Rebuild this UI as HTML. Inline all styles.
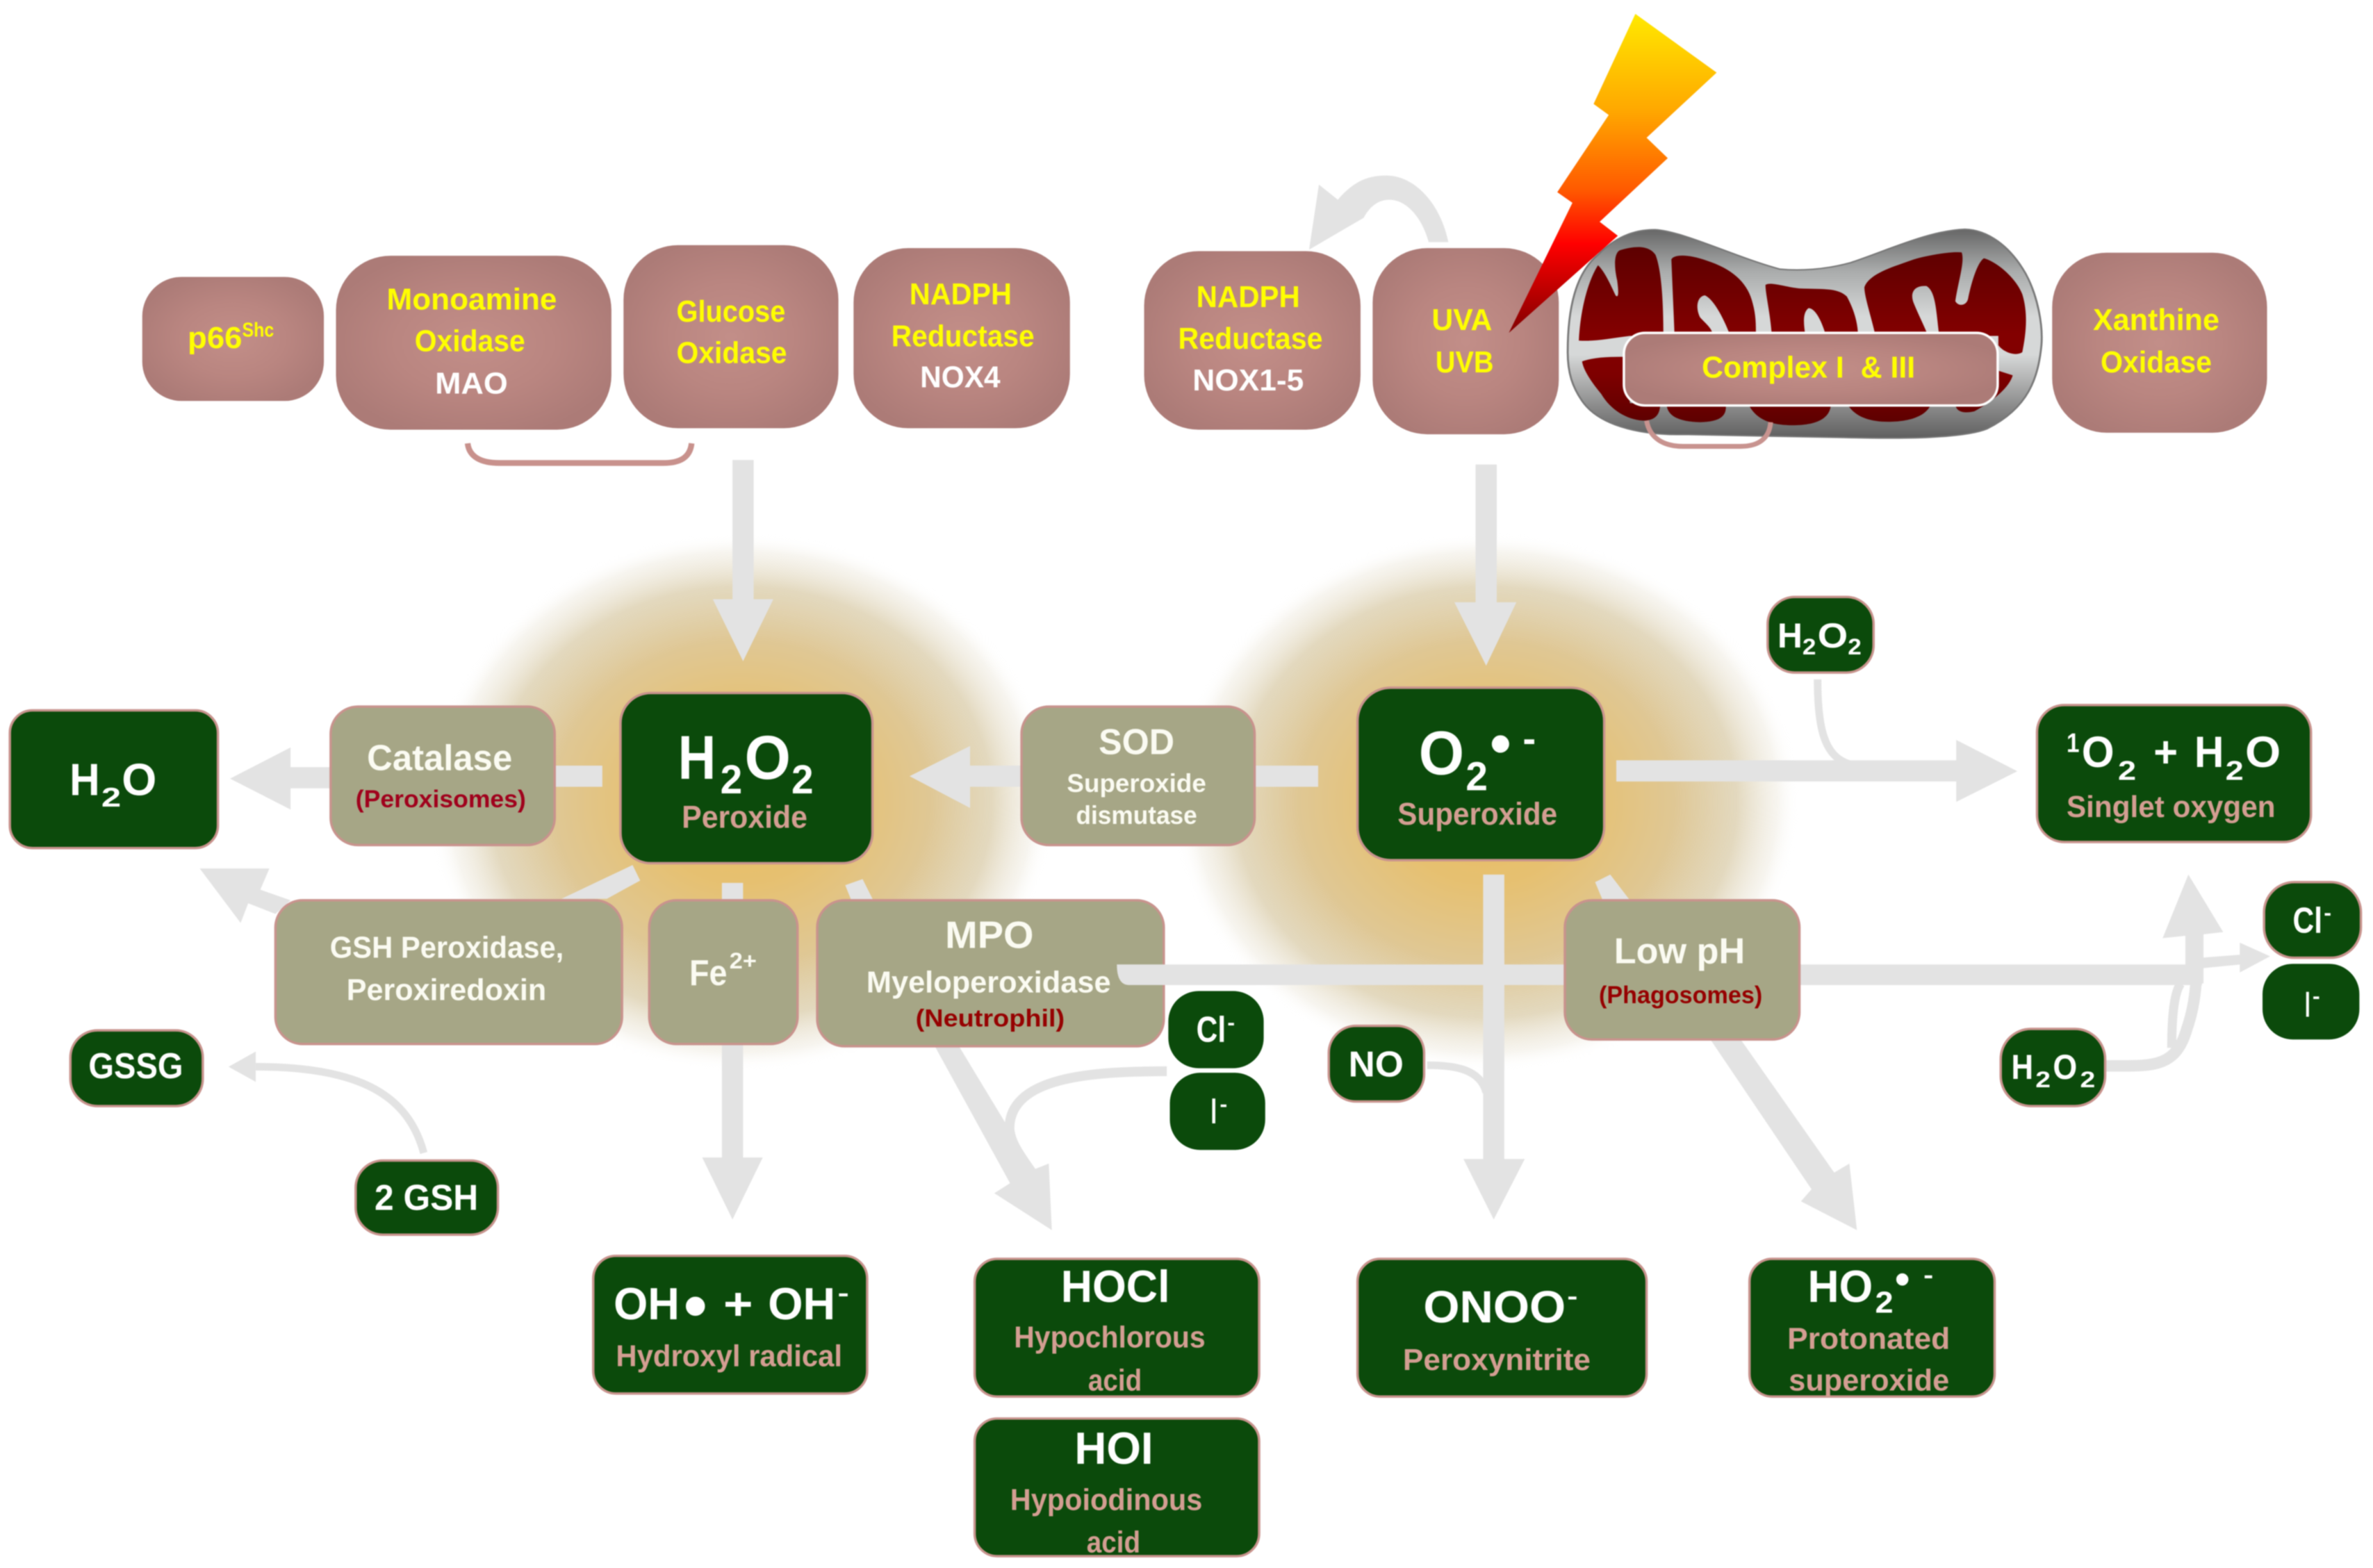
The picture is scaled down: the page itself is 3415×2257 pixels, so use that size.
<!DOCTYPE html>
<html><head><meta charset="utf-8"><style>
html,body{margin:0;padding:0;background:#fff;overflow:hidden}
svg{display:block;filter:blur(.9px)}
text{font-family:"Liberation Sans",sans-serif;font-weight:bold}
.w{fill:#fff}.o{fill:#fbfbf2}.y{fill:#ff0}.p{fill:#d39e92}.r{fill:#a0001c}
.g{fill:#0b4a0b;stroke:#c8938d;stroke-width:1.6}
.t{fill:#a6a686;stroke:#c8938d;stroke-width:1.6}
.m{fill:url(#rose)}
.a{fill:#e3e3e3}
.l{fill:none;stroke:#e3e3e3}
.c{fill:url(#cr)}
</style></head><body>
<svg xmlns="http://www.w3.org/2000/svg" width="3415" height="2257" viewBox="0 0 1568 1036.3" preserveAspectRatio="none">
<defs>
<radialGradient id="rose" cx=".5" cy=".5" r=".55"><stop offset="0" stop-color="#c28e88"/><stop offset=".55" stop-color="#b98580"/><stop offset="1" stop-color="#ac7b77"/></radialGradient>
<radialGradient id="glow"><stop offset="0" stop-color="#e8bc62"/><stop offset=".3" stop-color="#e6c070"/><stop offset=".6" stop-color="#dfc794"/><stop offset=".8" stop-color="#dccfae" stop-opacity=".8"/><stop offset=".93" stop-color="#e8e2d2" stop-opacity=".35"/><stop offset="1" stop-color="#fff" stop-opacity="0"/></radialGradient>
<linearGradient id="bolt" x1="0" y1="0" x2="0" y2="1"><stop offset="0" stop-color="#ffe800"/><stop offset=".3" stop-color="#ffa800"/><stop offset=".55" stop-color="#ff5a00"/><stop offset=".72" stop-color="#ff0000"/><stop offset="1" stop-color="#800000"/></linearGradient>
<linearGradient id="cr" gradientUnits="userSpaceOnUse" x1="0" y1="130" x2="0" y2="900"><stop offset="0" stop-color="#5c0000"/><stop offset=".5" stop-color="#830000"/><stop offset=".72" stop-color="#7e0000"/><stop offset="1" stop-color="#5c0000"/></linearGradient>
<linearGradient id="mi" x1="0" y1="0" x2="0" y2="1"><stop offset="0" stop-color="#666"/><stop offset=".2" stop-color="#a9abab"/><stop offset=".42" stop-color="#d6d8d8"/><stop offset=".6" stop-color="#d6d8d8"/><stop offset=".85" stop-color="#8a8a8a"/><stop offset="1" stop-color="#5f5f5f"/></linearGradient>
</defs>

<!-- glows -->
<ellipse cx="490" cy="530" rx="207" ry="178" fill="url(#glow)"/>
<ellipse cx="982" cy="530" rx="207" ry="178" fill="url(#glow)"/>

<!-- straight arrows -->
<path class="a" d="M484,304H498V396H511L491,437L471,396H484Z"/>
<path class="a" d="M975,307H989V398H1002L982,440L961,398H975Z"/>
<path class="a" d="M218,507V521H192V535L152,514.6L192,494V507Z"/>
<rect class="a" x="366" y="506" width="32" height="14"/>
<path class="a" d="M676,506V520H641V534L601,513L641,493V506Z"/>
<rect class="a" x="829" y="506" width="42" height="14"/>
<path class="a" d="M1068,502.5H1292.6V489L1333,509.7L1292.6,530V516.5H1068Z"/>
<path class="a" d="M980,578H994V766H1007.5L987,806L967,766H980Z"/>
<path class="a" d="M418,571.7L423,582L401,594H371Z"/>
<path class="a" d="M132,574H178L172,588L192,595L182,604L164,597L159,610Z"/>
<rect class="a" x="477" y="583.5" width="14" height="12"/>
<path class="a" d="M477,690H491V765H504L484,806L464,765H477Z"/>
<path class="a" d="M558.5,585L570,581L577,595H562.5Z"/>
<path class="a" d="M618,692H634L683,773L693,769L695,813L657,788.6L667.4,782Z"/>
<path class="a" d="M1054,583L1064,578L1077,595H1059Z"/>
<path class="a" d="M1129.5,686H1149.5L1212,775L1222,769L1227,813L1190,794L1197,786Z"/>

<!-- curved arrows -->
<path class="l" stroke-width="6.5" d="M771,708C720,708 668,712 667,745C667,755 675,765 684,778"/>
<path class="l" stroke-width="5" d="M943,704C960,704 978,706 982,722"/>
<path class="l" stroke-width="5" d="M1201,449C1201,480 1205,500 1222,505"/>
<path class="l" stroke-width="5" d="M280,762C270,725 240,705 169,705"/>
<path class="a" d="M169,695V715L151,705Z"/>
<path class="a" d="M865,165L871.5,122L884,132C895,119 905,116 916,116C935,116 952,135 957,160L944,160C940,145 930,132 918,132C912,132 906,135 901,144Z"/>

<!-- right junction -->
<path class="l" stroke-width="7.6" d="M1388,704.5C1420,704 1437,708 1445,680C1452,660 1452,640 1451,620"/>
<path class="l" stroke-width="6" d="M1435,692.5C1435,670 1437,655 1441,650"/>
<path class="a" d="M1446,578L1469,616L1456,617.5L1456,650H1444V618.5L1429,620Z"/>
<path class="a" d="M1454,633L1480,631V623L1500,632L1480,642.7V637.5L1454,640Z"/>

<!-- mitochondrion -->
<g transform="translate(1028.5,142.3) scale(.2108,.1533)">
<path fill="url(#mi)" stroke="#777" stroke-width="6" d="M35,590C35,400 60,250 130,170C180,100 240,60 310,62C400,70 560,180 700,232C760,240 840,235 920,205C1040,150 1170,65 1280,60C1350,62 1420,130 1470,250C1510,350 1525,480 1520,560C1510,700 1480,830 1350,920C1280,960 1100,965 900,958L400,945C250,950 130,900 80,800C50,740 35,680 35,590Z"/>
<path class="c" d="M70,540C75,400 100,280 130,215C150,240 170,300 185,345C195,360 195,330 190,280C180,220 180,160 200,150C250,130 290,130 310,170C325,220 335,330 335,520L230,520C170,530 120,545 70,540Z"/>
<path class="c" d="M370,520L360,190C370,165 420,170 470,195C550,230 600,290 615,380C625,430 625,470 625,520L545,520C520,430 490,360 465,345C440,350 435,400 450,440C470,470 490,490 490,520Z"/>
<path class="c" d="M675,520C670,420 655,340 655,300C670,285 720,310 760,315C830,320 880,310 910,350C930,400 945,460 945,520L845,520C830,450 810,400 790,400C770,420 775,470 780,520Z"/>
<path class="c" d="M1000,520C985,430 965,350 965,310C980,250 1060,220 1120,190C1170,170 1240,155 1270,160C1280,200 1260,280 1250,370C1260,395 1285,390 1290,360C1300,290 1320,200 1340,185C1380,200 1440,270 1460,340C1480,430 1470,520 1460,590C1440,610 1400,590 1385,560L1385,520L1200,520C1190,420 1190,330 1160,305C1125,300 1105,330 1120,380C1135,430 1150,470 1165,520Z"/>
<path class="c" d="M80,630C120,610 170,610 215,610L230,810L325,810C325,860 310,885 270,885C220,880 170,840 140,770C110,720 85,670 80,630Z"/>
<path class="c" d="M345,810L530,810C535,860 520,890 450,892C390,890 345,870 345,810Z"/>
<path class="c" d="M600,810L860,810C860,880 810,905 740,905C660,905 620,870 600,810Z"/>
<path class="c" d="M910,810L1175,810C1160,870 1100,890 1040,890C970,890 930,860 910,810Z"/>
<path class="c" d="M1250,810L1340,810L1385,670L1430,690C1420,740 1370,800 1310,845C1280,855 1250,850 1250,810Z"/>
</g>
<path fill="none" stroke="#c8938f" stroke-width="3.2" d="M1088,278C1090,290 1100,295 1112,295L1150,295C1162,295 1169,290 1170,279"/>
<path fill="none" stroke="#c8918c" stroke-width="3.8" d="M309,293C310,302 318,306 330,306L438,306C450,306 456,302 457,293"/>

<!-- rose boxes -->
<rect class="m" x="94" y="183" width="120" height="82" rx="26"/>
<rect class="m" x="222" y="169" width="182" height="115" rx="36"/>
<rect class="m" x="412" y="162" width="142" height="121" rx="36"/>
<rect class="m" x="564" y="164" width="143" height="119" rx="36"/>
<rect class="m" x="756" y="166" width="143" height="118" rx="36"/>
<rect class="m" x="907" y="164" width="123" height="123" rx="36"/>
<rect class="m" x="1356" y="167" width="142" height="119" rx="36"/>
<rect class="m" x="1073" y="220" width="247" height="48" rx="14" stroke="#fff" stroke-width="1.6"/>

<!-- lightning -->
<path fill="url(#bolt)" d="M1080.6,9.2L1134.3,48L1088,91L1102,104.5L1057,146.6L1069,155.8L997,220L1039,134L1029,127L1063,76L1053,68.7Z"/>

<!-- rose text -->
<text class="y" font-size="20" x="124" y="230" textLength="36" lengthAdjust="spacingAndGlyphs">p66</text>
<text class="y" font-size="13" x="160" y="222.5" textLength="21" lengthAdjust="spacingAndGlyphs">Shc</text>
<text class="y" font-size="20" x="255.5" y="204.5" textLength="112.5" lengthAdjust="spacingAndGlyphs">Monoamine</text>
<text class="y" font-size="20" x="274" y="232" textLength="73" lengthAdjust="spacingAndGlyphs">Oxidase</text>
<text class="w" font-size="20" x="287.5" y="260" textLength="48" lengthAdjust="spacingAndGlyphs">MAO</text>
<text class="y" font-size="20" x="447" y="212.7" textLength="72" lengthAdjust="spacingAndGlyphs">Glucose</text>
<text class="y" font-size="20" x="447" y="240" textLength="73" lengthAdjust="spacingAndGlyphs">Oxidase</text>
<text class="y" font-size="20" x="601" y="201" textLength="67.5" lengthAdjust="spacingAndGlyphs">NADPH</text>
<text class="y" font-size="20" x="589" y="229" textLength="94.5" lengthAdjust="spacingAndGlyphs">Reductase</text>
<text class="w" font-size="20" x="608" y="256" textLength="53" lengthAdjust="spacingAndGlyphs">NOX4</text>
<text class="y" font-size="20" x="790.5" y="203" textLength="68.5" lengthAdjust="spacingAndGlyphs">NADPH</text>
<text class="y" font-size="20" x="778.5" y="230.5" textLength="95.5" lengthAdjust="spacingAndGlyphs">Reductase</text>
<text class="w" font-size="20" x="788" y="258" textLength="73.5" lengthAdjust="spacingAndGlyphs">NOX1-5</text>
<text class="y" font-size="20" x="946" y="218" textLength="40" lengthAdjust="spacingAndGlyphs">UVA</text>
<text class="y" font-size="20" x="948.5" y="246" textLength="38.5" lengthAdjust="spacingAndGlyphs">UVB</text>
<text class="y" font-size="20" x="1383" y="218" textLength="83.5" lengthAdjust="spacingAndGlyphs">Xanthine</text>
<text class="y" font-size="20" x="1388" y="246" textLength="73.5" lengthAdjust="spacingAndGlyphs">Oxidase</text>
<text class="y" font-size="20" x="1124.5" y="249.5" textLength="141" lengthAdjust="spacingAndGlyphs" xml:space="preserve">Complex I  &amp; III</text>

<!-- dark / tan boxes -->
<rect class="g" x="6.5" y="469.5" width="137.5" height="91" rx="15"/>
<rect class="t" x="218.5" y="467" width="148" height="91.5" rx="18"/>
<rect class="g" x="410" y="458" width="166.5" height="112.5" rx="20"/>
<rect class="t" x="675" y="467" width="154" height="91.5" rx="18"/>
<rect class="g" x="897" y="454.5" width="163" height="114" rx="22"/>
<rect class="g" x="1346" y="466" width="181" height="90.5" rx="18"/>
<rect class="g" x="1168" y="394.5" width="70" height="50" rx="18"/>
<rect class="t" x="182" y="595" width="229" height="95" rx="18"/>
<rect class="t" x="429" y="595" width="98" height="95" rx="18"/>
<rect class="t" x="540" y="595" width="229" height="96.5" rx="18"/>
<rect class="g" style="stroke:none" x="772" y="655" width="63" height="51" rx="20"/>
<rect class="g" style="stroke:none" x="773" y="709" width="63" height="51" rx="20"/>
<rect class="g" x="46.5" y="681" width="87.5" height="50" rx="18"/>
<rect class="g" x="235" y="767" width="94" height="49" rx="18"/>
<rect class="g" x="878" y="678" width="63" height="50" rx="18"/>
<rect class="g" x="1322" y="680" width="69" height="51" rx="20"/>
<rect class="g" x="1496" y="583" width="64" height="50" rx="20"/>
<rect class="g" style="stroke:none" x="1495" y="637" width="64" height="50" rx="20"/>
<rect class="g" x="392" y="830" width="181" height="91" rx="15"/>
<rect class="g" x="644" y="832" width="188" height="91" rx="15"/>
<rect class="g" x="644" y="937.5" width="188" height="91" rx="15"/>
<rect class="g" x="897" y="832" width="191" height="91" rx="15"/>
<rect class="g" x="1156" y="832" width="162" height="91" rx="15"/>

<!-- horizontal bar over MPO, under Low pH -->
<path class="a" d="M738,637.4H1455V651H746C741,651 738,647 738,637.4Z"/>
<path class="a" d="M980,630H994V660H980Z"/>
<rect class="t" x="1034" y="595" width="155" height="92" rx="18"/>

<!-- center text -->
<text class="w" font-size="30" x="46" y="525.5" textLength="20" lengthAdjust="spacingAndGlyphs">H</text>
<text class="w" font-size="18" x="67" y="533" textLength="13" lengthAdjust="spacingAndGlyphs">2</text>
<text class="w" font-size="30" x="80.5" y="525.5" textLength="23" lengthAdjust="spacingAndGlyphs">O</text>
<text class="o" font-size="24" x="242.5" y="509" textLength="96" lengthAdjust="spacingAndGlyphs">Catalase</text>
<text class="r" font-size="16" x="235" y="533.5" textLength="112.5" lengthAdjust="spacingAndGlyphs">(Peroxisomes)</text>
<text class="w" font-size="41" x="448" y="514.6" textLength="25" lengthAdjust="spacingAndGlyphs">H</text>
<text class="w" font-size="27" x="476" y="524.3" textLength="14.5" lengthAdjust="spacingAndGlyphs">2</text>
<text class="w" font-size="41" x="492" y="514.6" textLength="30.5" lengthAdjust="spacingAndGlyphs">O</text>
<text class="w" font-size="27" x="523" y="524.3" textLength="14.5" lengthAdjust="spacingAndGlyphs">2</text>
<text class="p" font-size="21" x="450.5" y="547" textLength="83" lengthAdjust="spacingAndGlyphs">Peroxide</text>
<text class="o" font-size="24" x="726" y="498.5" textLength="50" lengthAdjust="spacingAndGlyphs">SOD</text>
<text class="o" font-size="17" x="705" y="523.5" textLength="92" lengthAdjust="spacingAndGlyphs">Superoxide</text>
<text class="o" font-size="17" x="711" y="544.5" textLength="80" lengthAdjust="spacingAndGlyphs">dismutase</text>
<text class="w" font-size="41" x="937.5" y="511.8" textLength="30" lengthAdjust="spacingAndGlyphs">O</text>
<text class="w" font-size="27" x="968.5" y="522.3" textLength="14.5" lengthAdjust="spacingAndGlyphs">2</text>
<text class="w" font-size="40" x="991.5" y="505" text-anchor="middle">•</text>
<text class="w" font-size="26" x="1010.5" y="497" text-anchor="middle">-</text>
<text class="p" font-size="21" x="923.5" y="545" textLength="105.5" lengthAdjust="spacingAndGlyphs">Superoxide</text>
<text class="w" font-size="18" x="1365.5" y="497" textLength="8.5" lengthAdjust="spacingAndGlyphs">1</text>
<text class="w" font-size="29" x="1375.5" y="507" textLength="21.5" lengthAdjust="spacingAndGlyphs">O</text>
<text class="w" font-size="18" x="1399.5" y="515.5" textLength="12" lengthAdjust="spacingAndGlyphs">2</text>
<text class="w" font-size="29" x="1423" y="507" textLength="16" lengthAdjust="spacingAndGlyphs">+</text>
<text class="w" font-size="29" x="1450" y="507" textLength="19.5" lengthAdjust="spacingAndGlyphs">H</text>
<text class="w" font-size="18" x="1470.5" y="515.5" textLength="12" lengthAdjust="spacingAndGlyphs">2</text>
<text class="w" font-size="29" x="1483.5" y="507" textLength="23.5" lengthAdjust="spacingAndGlyphs">O</text>
<text class="p" font-size="20" x="1365.5" y="540" textLength="138" lengthAdjust="spacingAndGlyphs">Singlet oxygen</text>
<text class="w" font-size="23" x="1174.5" y="428" textLength="16.5" lengthAdjust="spacingAndGlyphs">H</text>
<text class="w" font-size="15" x="1191" y="432.5" textLength="9" lengthAdjust="spacingAndGlyphs">2</text>
<text class="w" font-size="23" x="1201" y="428" textLength="20" lengthAdjust="spacingAndGlyphs">O</text>
<text class="w" font-size="15" x="1221" y="432.5" textLength="9" lengthAdjust="spacingAndGlyphs">2</text>
<text class="o" font-size="20" x="218" y="633" textLength="154.5" lengthAdjust="spacingAndGlyphs">GSH Peroxidase,</text>
<text class="o" font-size="20" x="229" y="661" textLength="132" lengthAdjust="spacingAndGlyphs">Peroxiredoxin</text>
<text class="o" font-size="24" x="455.5" y="651" textLength="25" lengthAdjust="spacingAndGlyphs">Fe</text>
<text class="o" font-size="15" x="482" y="640" textLength="18" lengthAdjust="spacingAndGlyphs">2+</text>
<text class="o" font-size="25" x="624.5" y="626.5" textLength="58.5" lengthAdjust="spacingAndGlyphs">MPO</text>
<text class="o" font-size="20" x="572.5" y="656" textLength="161.5" lengthAdjust="spacingAndGlyphs">Myeloperoxidase</text>
<text class="r" style="fill:#960000" font-size="16" x="605" y="678.5" textLength="98.5" lengthAdjust="spacingAndGlyphs">(Neutrophil)</text>
<text class="o" font-size="24" x="1066.5" y="636.5" textLength="86.5" lengthAdjust="spacingAndGlyphs">Low pH</text>
<text class="r" style="fill:#960000" font-size="16" x="1056.5" y="663" textLength="108" lengthAdjust="spacingAndGlyphs">(Phagosomes)</text>

<text class="w" font-size="24" x="58.5" y="712.5" textLength="62.5" lengthAdjust="spacingAndGlyphs">GSSG</text>
<text class="w" font-size="24" x="247.5" y="799.5" textLength="68.5" lengthAdjust="spacingAndGlyphs">2 GSH</text>
<text class="w" font-size="24" x="891" y="711.5" textLength="36.5" lengthAdjust="spacingAndGlyphs">NO</text>

<text class="w" font-size="24" x="790.5" y="688.5" textLength="19.5" lengthAdjust="spacingAndGlyphs">Cl</text>
<text class="w" font-size="14" x="811" y="680.5" textLength="5" lengthAdjust="spacingAndGlyphs">-</text>
<text class="w" font-size="24" x="800" y="742.5" textLength="4" lengthAdjust="spacingAndGlyphs">I</text>
<text class="w" font-size="14" x="806" y="734.5" textLength="5" lengthAdjust="spacingAndGlyphs">-</text>
<text class="w" font-size="24" x="1515" y="616.5" textLength="19.5" lengthAdjust="spacingAndGlyphs">Cl</text>
<text class="w" font-size="14" x="1535.5" y="608" textLength="5" lengthAdjust="spacingAndGlyphs">-</text>
<text class="w" font-size="24" x="1523" y="672" textLength="3.5" lengthAdjust="spacingAndGlyphs">I</text>
<text class="w" font-size="14" x="1528" y="663" textLength="5" lengthAdjust="spacingAndGlyphs">-</text>

<text class="w" font-size="23" x="1329" y="713" textLength="14.5" lengthAdjust="spacingAndGlyphs">H</text>
<text class="w" font-size="15" x="1345" y="718.5" textLength="10" lengthAdjust="spacingAndGlyphs">2</text>
<text class="w" font-size="23" x="1356.5" y="713" textLength="16" lengthAdjust="spacingAndGlyphs">O</text>
<text class="w" font-size="15" x="1374.5" y="718.5" textLength="10" lengthAdjust="spacingAndGlyphs">2</text>

<!-- bottom -->
<text class="w" font-size="30" x="405.5" y="872" textLength="43.5" lengthAdjust="spacingAndGlyphs">OH</text>
<text class="w" font-size="44" x="459.5" y="878" text-anchor="middle">•</text>
<text class="w" font-size="30" x="478" y="872" textLength="19.5" lengthAdjust="spacingAndGlyphs">+</text>
<text class="w" font-size="30" x="507.5" y="872" textLength="44.5" lengthAdjust="spacingAndGlyphs">OH</text>
<text class="w" font-size="16" x="553.5" y="860" textLength="7.5" lengthAdjust="spacingAndGlyphs">-</text>
<text class="p" font-size="20" x="407" y="903" textLength="149.5" lengthAdjust="spacingAndGlyphs">Hydroxyl radical</text>
<text class="w" font-size="30" x="701" y="860.5" textLength="72" lengthAdjust="spacingAndGlyphs">HOCl</text>
<text class="p" font-size="20" x="670" y="890.5" textLength="126.5" lengthAdjust="spacingAndGlyphs">Hypochlorous</text>
<text class="p" font-size="20" x="719" y="919" textLength="35.5" lengthAdjust="spacingAndGlyphs">acid</text>
<text class="w" font-size="30" x="710" y="967.5" textLength="52" lengthAdjust="spacingAndGlyphs">HOI</text>
<text class="p" font-size="20" x="667.5" y="998" textLength="127" lengthAdjust="spacingAndGlyphs">Hypoiodinous</text>
<text class="p" font-size="20" x="718" y="1026" textLength="35.5" lengthAdjust="spacingAndGlyphs">acid</text>
<text class="w" font-size="30" x="940.5" y="874" textLength="94" lengthAdjust="spacingAndGlyphs">ONOO</text>
<text class="w" font-size="16" x="1035.5" y="862" textLength="7" lengthAdjust="spacingAndGlyphs">-</text>
<text class="p" font-size="20" x="927" y="905.5" textLength="124" lengthAdjust="spacingAndGlyphs">Peroxynitrite</text>
<text class="w" font-size="30" x="1194.5" y="860.5" textLength="43" lengthAdjust="spacingAndGlyphs">HO</text>
<text class="w" font-size="20" x="1239" y="867.5" textLength="12" lengthAdjust="spacingAndGlyphs">2</text>
<text class="w" font-size="28" x="1257" y="855" text-anchor="middle">•</text>
<text class="w" font-size="16" x="1271" y="848" textLength="6.5" lengthAdjust="spacingAndGlyphs">-</text>
<text class="p" font-size="20" x="1181" y="891.5" textLength="107.5" lengthAdjust="spacingAndGlyphs">Protonated</text>
<text class="p" font-size="20" x="1182" y="919" textLength="106" lengthAdjust="spacingAndGlyphs">superoxide</text>
</svg>
</body></html>
